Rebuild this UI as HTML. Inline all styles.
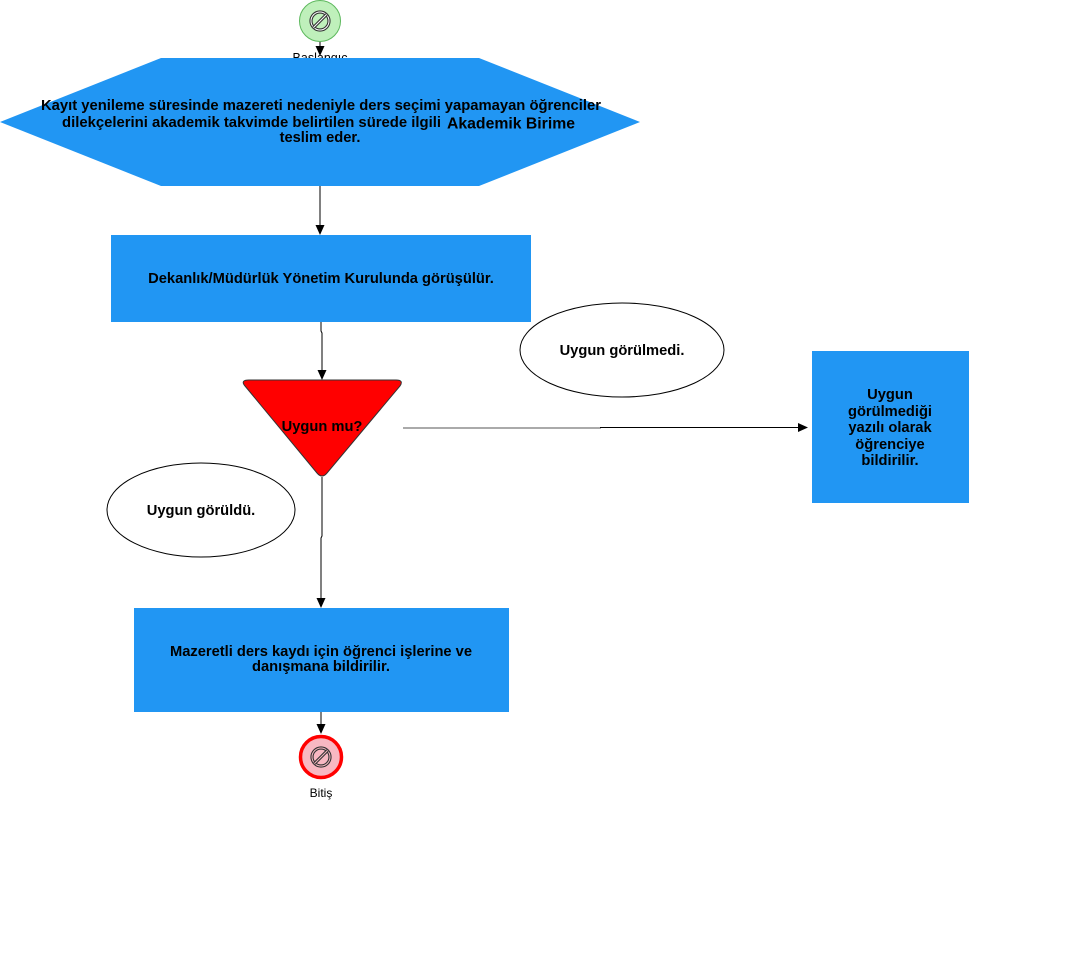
<!DOCTYPE html>
<html>
<head>
<meta charset="utf-8">
<style>
  html, body { margin:0; padding:0; background:#ffffff; }
  svg { display:block; }
  text { font-family: "Liberation Sans", Arial, sans-serif; fill:#000; }
  .b { font-weight:bold; font-size:14.7px; }
</style>
</head>
<body>
<svg width="1076" height="968" viewBox="0 0 1076 968" xmlns="http://www.w3.org/2000/svg">
  <rect x="0" y="0" width="1076" height="968" fill="#ffffff"/>

  <!-- Start event -->
  <circle cx="320" cy="21" r="20.5" fill="#bff0bb" stroke="#5cb85c" stroke-width="1"/>
  <circle cx="320" cy="21" r="9" fill="none" stroke="#333" stroke-width="3.2"/>
  <circle cx="320" cy="21" r="9" fill="none" stroke="#fff" stroke-width="1"/>
  <line x1="313.5" y1="27.5" x2="326.5" y2="14.5" stroke="#333" stroke-width="3.2"/>
  <line x1="313.5" y1="27.5" x2="326.5" y2="14.5" stroke="#fff" stroke-width="1"/>
  <text x="320" y="62" font-size="12.5" text-anchor="middle" fill="#000">Başlangıç</text>

  <!-- arrow start -> hex -->
  <line x1="320" y1="42" x2="320" y2="51" stroke="#000" stroke-width="1"/>
  <polygon points="315.5,46 324.5,46 320,56" fill="#000"/>

  <!-- Hexagon -->
  <polygon points="161,58 479,58 640,122 479,186 161,186 0,122" fill="#2196f3"/>
  <text class="b" x="41" y="110" textLength="560" lengthAdjust="spacingAndGlyphs">Kayıt yenileme süresinde mazereti nedeniyle ders seçimi yapamayan öğrenciler</text>
  <text class="b" x="62" y="127" textLength="379" lengthAdjust="spacingAndGlyphs">dilekçelerini akademik takvimde belirtilen sürede ilgili</text>
  <text x="447" y="128.5" font-weight="bold" font-size="16" textLength="128" lengthAdjust="spacingAndGlyphs">Akademik Birime</text>
  <text class="b" x="320" y="142" text-anchor="middle">teslim eder.</text>

  <!-- arrow hex -> box1 -->
  <line x1="320" y1="186" x2="320" y2="227" stroke="#000" stroke-width="1"/>
  <polygon points="315.5,225 324.5,225 320,235" fill="#000"/>

  <!-- Box 1 -->
  <rect x="111" y="235" width="420" height="87" fill="#2196f3"/>
  <text class="b" x="321" y="283" text-anchor="middle">Dekanlık/Müdürlük Yönetim Kurulunda görüşülür.</text>

  <!-- arrow box1 -> triangle -->
  <polyline points="321,322 321,331 322,333 322,372" fill="none" stroke="#000" stroke-width="1"/>
  <polygon points="317.5,370 326.5,370 322,380" fill="#000"/>

  <!-- Ellipse Uygun görülmedi -->
  <ellipse cx="622" cy="350" rx="102" ry="47" fill="#fff" stroke="#000" stroke-width="1"/>
  <text class="b" x="622" y="355" text-anchor="middle">Uygun görülmedi.</text>

  <!-- Triangle decision -->
  <path d="M249,380 L396,380 Q404,380 400,386 L327,473 Q322,479 317,473 L245,386 Q240,380 249,380 Z" fill="#ff0000" stroke="#333" stroke-width="1"/>
  <text class="b" x="322" y="431" text-anchor="middle">Uygun mu?</text>

  <!-- horizontal connector -->
  <line x1="403" y1="428" x2="601" y2="428" stroke="#777" stroke-width="1.2"/>
  <line x1="600" y1="427.5" x2="801" y2="427.5" stroke="#000" stroke-width="1"/>
  <polygon points="798,423 798,432 808,427.5" fill="#000"/>

  <!-- Right box -->
  <rect x="812" y="351" width="157" height="152" fill="#2196f3"/>
  <text class="b" x="890" y="399" text-anchor="middle">Uygun</text>
  <text class="b" x="890" y="416" text-anchor="middle">görülmediği</text>
  <text class="b" x="890" y="432" text-anchor="middle">yazılı olarak</text>
  <text class="b" x="890" y="449" text-anchor="middle">öğrenciye</text>
  <text class="b" x="890" y="465" text-anchor="middle">bildirilir.</text>

  <!-- Ellipse Uygun görüldü -->
  <ellipse cx="201" cy="510" rx="94" ry="47" fill="#fff" stroke="#000" stroke-width="1"/>
  <text class="b" x="201" y="515" text-anchor="middle">Uygun görüldü.</text>

  <!-- arrow triangle -> box3 -->
  <polyline points="322,477 322,536 321,538 321,600" fill="none" stroke="#000" stroke-width="1"/>
  <polygon points="316.5,598 325.5,598 321,608" fill="#000"/>

  <!-- Box 3 -->
  <rect x="134" y="608" width="375" height="104" fill="#2196f3"/>
  <text class="b" x="321" y="656" text-anchor="middle">Mazeretli ders kaydı için öğrenci işlerine ve</text>
  <text class="b" x="321" y="671" text-anchor="middle">danışmana bildirilir.</text>

  <!-- arrow box3 -> end -->
  <line x1="321" y1="712" x2="321" y2="727" stroke="#000" stroke-width="1"/>
  <polygon points="316.5,724 325.5,724 321,734" fill="#000"/>

  <!-- End event -->
  <circle cx="321" cy="757" r="20.5" fill="#f8b8c2" stroke="#ff0000" stroke-width="3.5"/>
  <circle cx="321" cy="757" r="9" fill="none" stroke="#333" stroke-width="3.2"/>
  <circle cx="321" cy="757" r="9" fill="none" stroke="#f8b8c2" stroke-width="1"/>
  <line x1="314.5" y1="763.5" x2="327.5" y2="750.5" stroke="#333" stroke-width="3.2"/>
  <line x1="314.5" y1="763.5" x2="327.5" y2="750.5" stroke="#f8b8c2" stroke-width="1"/>
  <text x="321" y="797" font-size="12" text-anchor="middle" fill="#000">Bitiş</text>
</svg>
</body>
</html>
